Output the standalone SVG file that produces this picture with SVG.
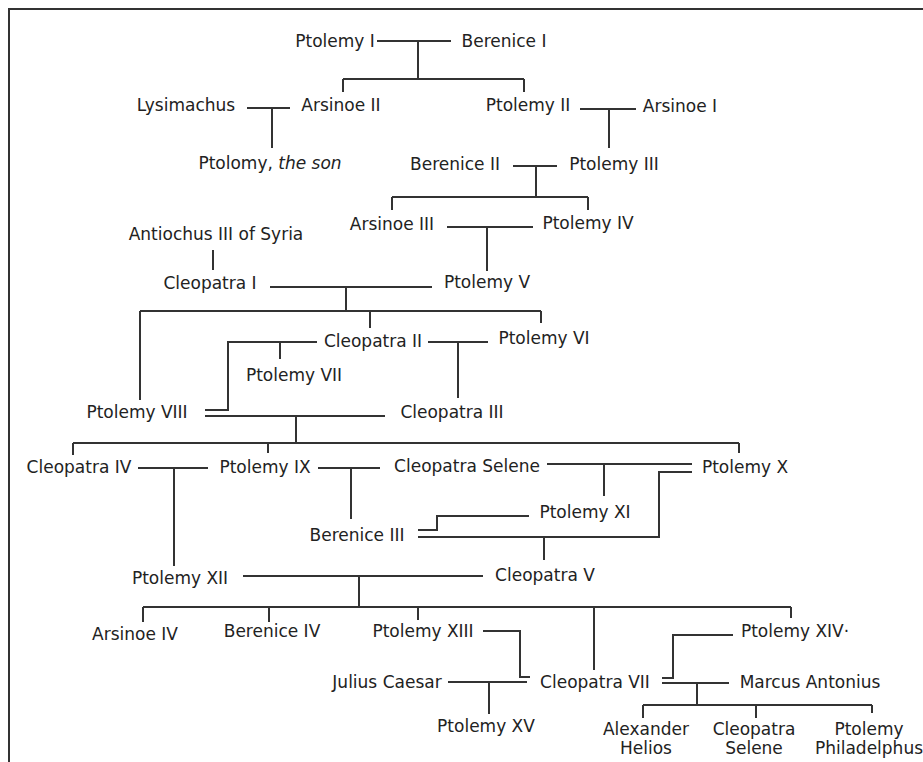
<svg xmlns="http://www.w3.org/2000/svg" width="923" height="762" viewBox="0 0 923 762">
<style>
text{font-family:"DejaVu Sans","Liberation Sans",sans-serif;font-size:17px;fill:#222;text-anchor:middle}
.c path{fill:none;stroke:#333;stroke-width:2}
.frame{fill:none;stroke:#333;stroke-width:2}
</style>
<rect width="923" height="762" fill="#fff"/>
<path class="frame" d="M9 770 V9 H930"/>
<g class="c" id="connectors">
<path d="M377 41 H451 M418 41 V79 M343 79 H524 M343 79 V92 M524 79 V92"/>
<path d="M247 108 H290 M272 108 V148"/>
<path d="M580 109 H636 M609 109 V148"/>
<path d="M513 166 H557 M536 166 V197 M392 197 H588 M392 197 V210 M588 197 V210"/>
<path d="M447 227 H533 M487 227 V271"/>
<path d="M213 250 V270"/>
<path d="M270 287 H432 M346 287 V311 M140 311 H541 M140 311 V400 M370 311 V328 M541 311 V323"/>
<path d="M428 342 H488 M458 342 V398"/>
<path d="M317 342 H228 V410 H205 M280 342 V359"/>
<path d="M205 416 H385 M296 416 V443 M73 443 H739 M73 443 V455 M268 443 V453 M739 443 V453"/>
<path d="M138 468 H208 M174 468 V566"/>
<path d="M318 468 H380 M351 468 V519"/>
<path d="M547 464 H692 M604 464 V496"/>
<path d="M529 516 H437 V530 H418"/>
<path d="M692 472 H659 V537 H418 M544 537 V560"/>
<path d="M243 576 H483 M359 576 V607 M143 607 H791 M143 607 V622 M269 607 V622 M418 607 V620 M594 607 V670 M791 607 V618"/>
<path d="M483 631 H520 V677 H530"/>
<path d="M448 682 H527 M489 682 V714"/>
<path d="M733 635 H673 V678 H662"/>
<path d="M662 683 H729 M697 683 V705 M643 705 H872 M643 705 V718 M756 705 V718 M872 705 V713"/>
</g>
<g id="ptolemy1"><text x="335" y="47">Ptolemy I</text></g>
<g id="berenice1"><text x="504" y="47">Berenice I</text></g>
<g id="lysimachus"><text x="186" y="111">Lysimachus</text></g>
<g id="arsinoe2"><text x="341" y="111">Arsinoe II</text></g>
<g id="ptolemy2"><text x="528" y="111">Ptolemy II</text></g>
<g id="arsinoe1"><text x="680" y="112">Arsinoe I</text></g>
<g id="ptolomy-son"><text x="270" y="169">Ptolomy, <tspan font-style="italic">the son</tspan></text></g>
<g id="berenice2"><text x="455" y="170">Berenice II</text></g>
<g id="ptolemy3"><text x="614" y="170">Ptolemy III</text></g>
<g id="arsinoe3"><text x="392" y="230">Arsinoe III</text></g>
<g id="ptolemy4"><text x="588" y="229">Ptolemy IV</text></g>
<g id="antiochus3"><text x="216" y="240">Antiochus III of Syria</text></g>
<g id="cleopatra1"><text x="210" y="289">Cleopatra I</text></g>
<g id="ptolemy5"><text x="487" y="288">Ptolemy V</text></g>
<g id="cleopatra2"><text x="373" y="347">Cleopatra II</text></g>
<g id="ptolemy6"><text x="544" y="344">Ptolemy VI</text></g>
<g id="ptolemy7"><text x="294" y="381">Ptolemy VII</text></g>
<g id="ptolemy8"><text x="137" y="418">Ptolemy VIII</text></g>
<g id="cleopatra3"><text x="452" y="418">Cleopatra III</text></g>
<g id="cleopatra4"><text x="79" y="473">Cleopatra IV</text></g>
<g id="ptolemy9"><text x="265" y="473">Ptolemy IX</text></g>
<g id="cleopatra-selene-1"><text x="467" y="472">Cleopatra Selene</text></g>
<g id="ptolemy10"><text x="745" y="473">Ptolemy X</text></g>
<g id="ptolemy11"><text x="585" y="518">Ptolemy XI</text></g>
<g id="berenice3"><text x="357" y="541">Berenice III</text></g>
<g id="ptolemy12"><text x="180" y="584">Ptolemy XII</text></g>
<g id="cleopatra5"><text x="545" y="581">Cleopatra V</text></g>
<g id="arsinoe4"><text x="135" y="640">Arsinoe IV</text></g>
<g id="berenice4"><text x="272" y="637">Berenice IV</text></g>
<g id="ptolemy13"><text x="423" y="637">Ptolemy XIII</text></g>
<g id="ptolemy14"><text x="795" y="637">Ptolemy XIV·</text></g>
<g id="julius-caesar"><text x="387" y="688">Julius Caesar</text></g>
<g id="cleopatra7"><text x="595" y="688">Cleopatra VII</text></g>
<g id="marcus-antonius"><text x="810" y="688">Marcus Antonius</text></g>
<g id="ptolemy15"><text x="486" y="732">Ptolemy XV</text></g>
<g id="alexander-helios"><text x="646" y="735">Alexander</text><text x="646" y="754">Helios</text></g>
<g id="cleopatra-selene-2"><text x="754" y="735">Cleopatra</text><text x="754" y="754">Selene</text></g>
<g id="ptolemy-philadelphus"><text x="869" y="735">Ptolemy</text><text x="869" y="754">Philadelphus</text></g>
</svg>
